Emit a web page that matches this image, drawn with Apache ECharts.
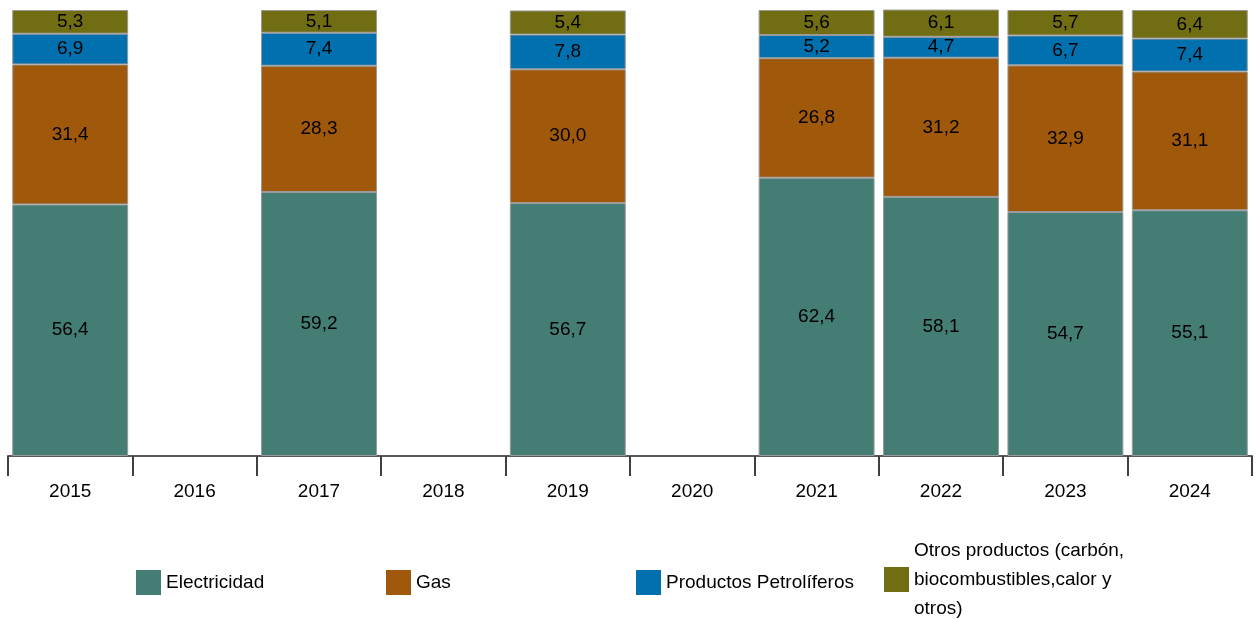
<!DOCTYPE html>
<html>
<head>
<meta charset="utf-8">
<script src="https://cdn.jsdelivr.net/npm/echarts@6/dist/echarts.min.js"></script>
<style>html,body{margin:0;padding:0;background:#fff;}#c{width:1258px;height:619px;}</style>
</head>
<body>
<div id="c"></div>
<script>
var categories = ['2015','2016','2017','2018','2019','2020','2021','2022','2023','2024'];
var electricidad = [56.4, null, 59.2, null, 56.7, null, 62.4, 58.1, 54.7, 55.1];
var gas = [31.4, null, 28.3, null, 30.0, null, 26.8, 31.2, 32.9, 31.1];
var petroliferos = [6.9, null, 7.4, null, 7.8, null, 5.2, 4.7, 6.7, 7.4];
var otros = [5.3, null, 5.1, null, 5.4, null, 5.6, 6.1, 5.7, 6.4];
var seriesNames = ['Electricidad', 'Gas', 'Productos Petrolíferos', 'Otros productos (carbón,\nbiocombustibles,calor y\notros)'];
var colors = ['#437d73', '#a0580a', '#0070ae', '#716d12'];

var FONT = '"Liberation Sans", Arial, sans-serif';
var FS = 19;

function mk(name, data, color) {
  return {
    name: name, type: 'bar', stack: 'total', data: data,
    barCategoryGap: '6.8%',
    itemStyle: { color: color, borderColor: '#9a9a9a', borderWidth: 1 },
    label: {
      show: true, position: 'inside', color: '#000', fontFamily: FONT, fontSize: FS,
      formatter: function (p) { return p.value == null ? '' : p.value.toFixed(1).replace('.', ','); }
    },
    emphasis: { disabled: true }
  };
}

function lg(i, left, top) {
  return {
    data: [seriesNames[i]], left: left, top: top, orient: 'horizontal', padding: 0,
    itemWidth: 25, itemHeight: 25, itemGap: 0, icon: 'rect',
    itemStyle: { borderWidth: 0 },
    textStyle: { fontFamily: FONT, fontSize: FS, color: '#000', lineHeight: 29 },
    selectedMode: false
  };
}

var chart = echarts.init(document.getElementById('c'), null, { renderer: 'canvas' });
chart.setOption({
  animation: false,
  color: colors,
  grid: { left: 8, right: 6, top: 10, bottom: 163, containLabel: false },
  xAxis: {
    type: 'category', data: categories,
    axisLine: { show: true, lineStyle: { color: '#595959', width: 2 } },
    axisTick: { show: true, interval: 0, length: 20, lineStyle: { color: '#404040', width: 2 } },
    axisLabel: { interval: 0, margin: 26, color: '#000', fontFamily: FONT, fontSize: FS }
  },
  yAxis: { type: 'value', min: 0, max: 100, show: false, splitLine: { show: false } },
  legend: [lg(0, 136, 568), lg(1, 386, 568), lg(2, 636, 568), lg(3, 884, 536)],
  series: [
    mk(seriesNames[0], electricidad, colors[0]),
    mk(seriesNames[1], gas, colors[1]),
    mk(seriesNames[2], petroliferos, colors[2]),
    mk(seriesNames[3], otros, colors[3])
  ]
});
</script>
</body>
</html>
